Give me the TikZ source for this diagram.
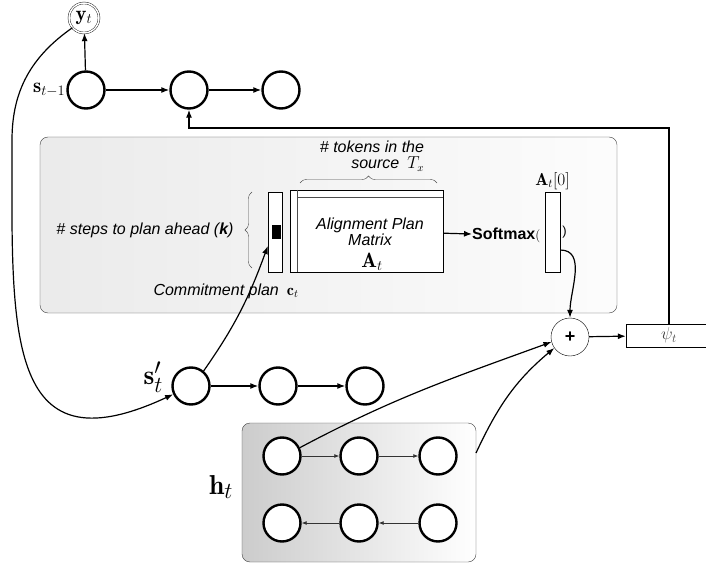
\documentclass[tikz,border=0pt]{standalone}
\usepackage{amsmath}
\usepackage{fontspec}
\newfontfamily\helv{Liberation Sans}
\usetikzlibrary{decorations.pathreplacing,arrows.meta}

\newcommand{\fsz}[1]{\fontsize{#1}{#1}\selectfont}

\tikzset{
  cell/.style={circle,draw,fill=white,line width=2.4pt,minimum size=37pt,inner sep=0pt},
  panel/.style={draw=black!75,rounded corners=8pt},
  vecbox/.style={draw,fill=white,inner sep=0pt},
  note/.style={font=\helv\itshape\fsz{16}},
  mlabel/.style={font=\huge},
  brace/.style={decorate,decoration={brace,amplitude=7pt},black!70},
  conn/.style={line width=1.2pt,-{Latex[length=8pt,width=6pt]}},
  thinconn/.style={black!80,line width=0.8pt,-{Latex[length=5pt,width=4pt]}},
}

\begin{document}
\begin{tikzpicture}[x=1pt,y=1pt]
  \useasboundingbox (0,0) rectangle (706,-569);

  \draw[panel,left color=black!8,right color=black!1] (40,-137) rectangle (617,-313);
  \draw[panel,left color=black!20,right color=white] (242,-423) rectangle (476,-562);

  \node[circle,draw,double,double distance=1.5pt,minimum size=30pt,inner sep=0pt,mlabel] (yt) at (84,-18) {$\mathbf{y}_t$};

  \node[cell] (s1) at (86,-90) {};
  \node[cell] (s2) at (189,-90) {};
  \node[cell] (s3) at (281,-90) {};
  \node[mlabel,anchor=east,inner sep=1pt] (slbl) at (s1.west) {$\mathbf{s}_{t-1}$};

  \node[cell] (p1) at (191,-386) {};
  \node[cell] (p2) at (278,-386) {};
  \node[cell] (p3) at (365,-386) {};
  \node[font=\Huge,scale=1.1,anchor=east,inner sep=0pt] (plbl) at ([xshift=-8pt,yshift=9pt]p1.west) {$\mathbf{s}'_t$};

  \node[cell] (h1) at (282,-456) {};
  \node[cell] (h2) at (359,-456) {};
  \node[cell] (h3) at (438,-456) {};
  \node[cell] (h4) at (282,-523) {};
  \node[cell] (h5) at (359,-523) {};
  \node[cell] (h6) at (438,-523) {};
  \node[font=\Huge,scale=1.1] (hlbl) at (221,-487) {$\mathbf{h}_t$};

  \node[vecbox,minimum width=14pt,minimum height=80pt] (cvec) at (275,-232) {};
  \node[fill=black,inner sep=0pt,minimum width=9pt,minimum height=14pt] (cfill) at (276,-232) {};
  \node[vecbox,minimum width=153pt,minimum height=82pt] (amat) at (366.5,-231) {};
  \draw[line width=1pt,black!70] ([xshift=8pt]amat.north west) -- ([xshift=8pt]amat.south west);
  \draw[line width=1pt,black!70] ([xshift=8pt,yshift=-8pt]amat.north west) -- ([yshift=-8pt]amat.north east);
  \node[note,align=center] (mtext) at (370,-232) {Alignment Plan\\Matrix};
  \node[mlabel] (mlbl) at (372,-262) {$\mathbf{A}_t$};

  \draw[brace] (252,-268) -- (252,-192);
  \draw[brace] (300,-183) -- (437,-183);
  \node[note] (ktext) at (145,-230) {\# steps to plan ahead (\textbf{k})};
  \node[note,align=right] (ttext) at (372,-156) {\# tokens in the\\source\enspace$T_x$};
  \node[note] (cplan) at (226,-291) {Commitment plan\enspace$\mathbf{c}_t$};

  \node[font=\helv\bfseries\fsz{16},anchor=west,inner sep=0pt] (smax) at (472,-235) {Softmax\normalfont\fsz{13}(};
  \node[vecbox,minimum width=15pt,minimum height=80pt] (avec) at (552.5,-232) {};
  \node[font=\LARGE,above,inner sep=2pt] (albl) at (avec.north) {$\mathbf{A}_t[0]$};
  \node[font=\helv\fsz{13},anchor=west,inner sep=2pt] (rpar) at (avec.east) {)};

  \node[circle,draw,fill=white,minimum size=38pt,inner sep=0pt,font=\helv\bfseries\fsz{18}] (plus) at (570,-337) {+};
  \node[draw,minimum width=86pt,minimum height=23pt,inner sep=0pt,font=\LARGE,text=black!75] (psi) at (669,-335.5) {$\psi_t$};
  \coordinate (fb) at (189,-128);

  \draw[conn] (s1) -- (yt);
  \draw[conn] (s1) -- (s2);
  \draw[conn] (s2) -- (s3);
  \draw[conn] (p1) -- (p2);
  \draw[conn] (p2) -- (p3);
  \draw[thinconn] (h1) -- (h2);
  \draw[thinconn] (h2) -- (h3);
  \draw[thinconn] (h6) -- (h5);
  \draw[thinconn] (h5) -- (h4);
  \draw[conn] (amat) -- (smax);
  \draw[conn] (psi.north) |- (fb) -- (s2.south);
  \draw[conn] (plus) -- (psi);
  \draw[conn] ([yshift=-18pt]avec.east) to[out=0,in=90] (plus.north);
  \draw[conn] (p1.50) to[out=55,in=-110] ([yshift=-14pt]cvec.west);
  \draw[conn] (yt.220) to[out=215,in=90] (12,-140) to[out=-90,in=205,looseness=1.6] (p1.205);
  \draw[conn] (h1.25) to[out=28,in=200] (plus.195);
  \draw[conn] (476,-453) to[out=65,in=220] (plus.215);
\end{tikzpicture}
\end{document}
